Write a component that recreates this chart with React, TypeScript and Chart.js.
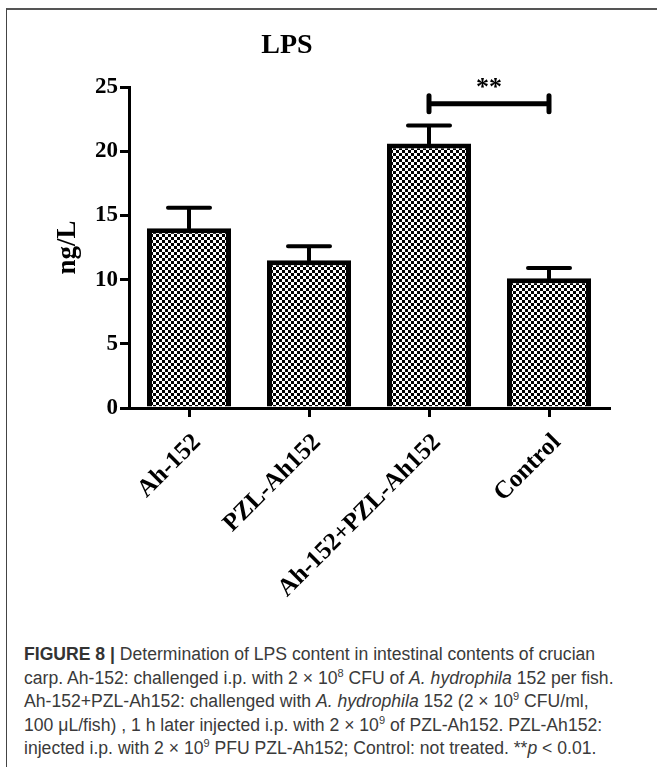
import React, { useEffect, useRef } from "react";
import { Chart, registerables } from "chart.js";
Chart.register(...registerables);

const categories = ["Ah-152", "PZL-Ah152", "Ah-152+PZL-Ah152", "Control"];
const means = [14.0, 11.5, 20.6, 10.1];
const sems = [1.6, 1.1, 1.4, 0.8];
const yMin = 0;
const yMax = 25;
const yStep = 5;
const sigFrom = 2;
const sigTo = 3;
const sigLevel = 23.7;
const sigLabel = "**";
const chartTitle = "LPS";
const yTitle = "ng/L";

const SERIF = "'Liberation Serif', 'Times New Roman', serif";

function makePattern(): CanvasPattern | string {
  const c = document.createElement("canvas");
  c.width = 6;
  c.height = 6;
  const g = c.getContext("2d");
  if (!g) return "#888";
  g.fillStyle = "#fff";
  g.fillRect(0, 0, 6, 6);
  g.fillStyle = "#000";
  g.fillRect(0, 0, 3, 3);
  g.fillRect(3, 3, 3, 3);
  return g.createPattern(c, "repeat") || "#888";
}

const errorBarPlugin = {
  id: "errorBars",
  afterDatasetsDraw(chart: any) {
    const { ctx } = chart;
    const xs = chart.scales.x;
    const ys = chart.scales.y;
    ctx.save();
    ctx.strokeStyle = "#000";
    ctx.lineCap = "round";
    means.forEach((m, i) => {
      const x = xs.getPixelForValue(i);
      const yb = ys.getPixelForValue(m);
      const yt = ys.getPixelForValue(m + sems[i]);
      ctx.lineWidth = 4;
      ctx.beginPath();
      ctx.moveTo(x, yb);
      ctx.lineTo(x, yt);
      ctx.moveTo(x - 21, yt);
      ctx.lineTo(x + 21, yt);
      ctx.stroke();
    });
    const x1 = xs.getPixelForValue(sigFrom);
    const x2 = xs.getPixelForValue(sigTo);
    const yl = ys.getPixelForValue(sigLevel);
    ctx.lineWidth = 5;
    ctx.beginPath();
    ctx.moveTo(x1, yl);
    ctx.lineTo(x2, yl);
    ctx.moveTo(x1, yl - 8);
    ctx.lineTo(x1, yl + 8);
    ctx.moveTo(x2, yl - 8);
    ctx.lineTo(x2, yl + 8);
    ctx.stroke();
    ctx.fillStyle = "#000";
    ctx.font = `bold 26px ${SERIF}`;
    ctx.textAlign = "center";
    ctx.textBaseline = "alphabetic";
    ctx.fillText(sigLabel, (x1 + x2) / 2, yl - 9);
    ctx.restore();
  },
};

const titlePlugin = {
  id: "customTitle",
  afterDraw(chart: any) {
    const { ctx } = chart;
    ctx.save();
    ctx.fillStyle = "#000";
    ctx.font = `bold 28px ${SERIF}`;
    ctx.textAlign = "center";
    ctx.textBaseline = "middle";
    ctx.fillText(chartTitle, 287, 46);
    ctx.restore();
  },
};

function ChartBox() {
  const ref = useRef<HTMLCanvasElement | null>(null);
  useEffect(() => {
    if (!ref.current) return;
    const pattern = makePattern();
    const chart = new Chart(ref.current, {
      type: "bar",
      data: {
        labels: categories,
        datasets: [
          {
            data: means,
            backgroundColor: pattern as any,
            borderColor: "#000",
            borderWidth: 5,
            barPercentage: 0.7,
            categoryPercentage: 1.0,
          },
        ],
      },
      options: {
        animation: false,
        responsive: false,
        maintainAspectRatio: false,
        layout: { padding: { top: 87, right: 48, left: 0, bottom: 0 } },
        plugins: {
          legend: { display: false },
          tooltip: { enabled: false },
          title: { display: false },
        },
        scales: {
          x: {
            grid: {
              display: true,
              drawOnChartArea: false,
              drawTicks: true,
              tickLength: 9,
              lineWidth: 3,
              color: "#000",
              offset: false,
            },
            border: { display: true, width: 3, color: "#000" },
            ticks: {
              color: "#000",
              font: { family: SERIF, size: 25, weight: "bold" },
              maxRotation: 45,
              minRotation: 45,
              padding: 11,
              labelOffset: 8,
              autoSkip: false,
            },
            afterFit: (s: any) => {
              s.height = 212;
            },
          },
          y: {
            min: yMin,
            max: yMax,
            ticks: {
              stepSize: yStep,
              color: "#000",
              font: { family: SERIF, size: 23, weight: "bold" },
              padding: 2,
            },
            title: {
              display: true,
              text: yTitle,
              color: "#000",
              font: { family: SERIF, size: 27, weight: "bold" },
              padding: { top: 52, bottom: 0 },
            },
            grid: {
              display: true,
              drawOnChartArea: false,
              drawTicks: true,
              tickLength: 9,
              lineWidth: 3,
              color: "#000",
            },
            border: { display: true, width: 3, color: "#000" },
            afterFit: (s: any) => {
              s.width = 129;
            },
          },
        },
      },
      plugins: [errorBarPlugin, titlePlugin],
    });
    return () => chart.destroy();
  }, []);
  return (
    <canvas
      ref={ref}
      width={657}
      height={620}
      style={{ position: "absolute", left: 0, top: 0, width: 657, height: 620 }}
    />
  );
}

const supStyle: React.CSSProperties = {
  fontSize: "11px",
  position: "relative",
  top: "-7px",
  lineHeight: 0,
};

export default function App() {
  return (
    <div
      style={{
        position: "absolute",
        left: 0,
        top: 0,
        width: 657,
        height: 767,
        background: "#fff",
        overflow: "hidden",
      }}
    >
      <div
        style={{
          position: "absolute",
          left: 6,
          top: 8,
          width: 651,
          height: 759,
          borderTop: "2px solid #555",
          borderLeft: "1px solid #444",
          boxSizing: "border-box",
        }}
      />
      <ChartBox />
      <div
        style={{
          position: "absolute",
          left: 24,
          top: 643,
          width: 633,
          fontFamily: "'Liberation Sans', Arial, sans-serif",
          fontSize: "17.6px",
          lineHeight: "23.5px",
          color: "#3a3a3a",
          whiteSpace: "nowrap",
        }}
      >
        <b style={{ color: "#333" }}>FIGURE 8 |</b> Determination of LPS content in intestinal contents of crucian
        <br />
        carp. Ah-152: challenged i.p. with 2 × 10<span style={supStyle}>8</span> CFU of <i>A. hydrophila</i> 152 per fish.
        <br />
        Ah-152+PZL-Ah152: challenged with <i>A. hydrophila</i> 152 (2 × 10<span style={supStyle}>9</span> CFU/ml,
        <br />
        100 μL/fish) , 1 h later injected i.p. with 2 × 10<span style={supStyle}>9</span> of PZL-Ah152. PZL-Ah152:
        <br />
        injected i.p. with 2 × 10<span style={supStyle}>9</span> PFU PZL-Ah152; Control: not treated. **<i>p</i> &lt; 0.01.
      </div>
    </div>
  );
}
